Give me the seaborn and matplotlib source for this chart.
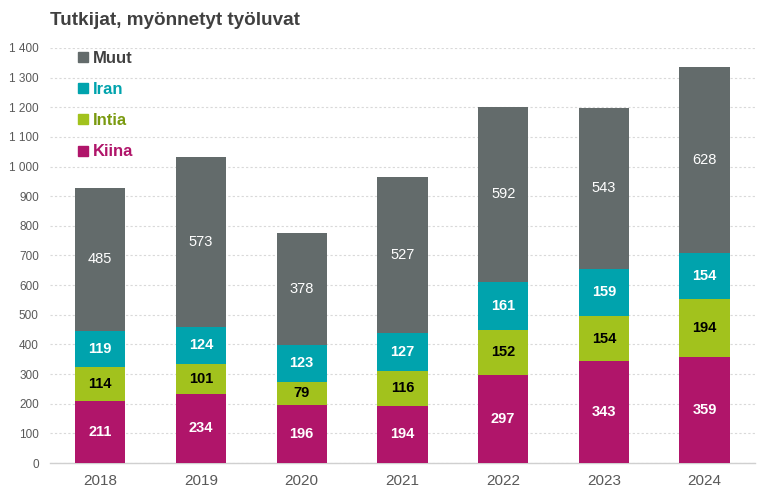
import matplotlib
matplotlib.use("Agg")
import matplotlib.pyplot as plt
import seaborn as sns
import pandas as pd
import numpy as np
from matplotlib.lines import Line2D
from matplotlib.ticker import FuncFormatter, MultipleLocator

years = ["2018", "2019", "2020", "2021", "2022", "2023", "2024"]
kiina = [211, 234, 196, 194, 297, 343, 359]
intia = [114, 101, 79, 116, 152, 154, 194]
iran = [119, 124, 123, 127, 161, 159, 154]
muut = [485, 573, 378, 527, 592, 543, 628]

series_names = ["Kiina", "Intia", "Iran", "Muut"]
series_vals = [kiina, intia, iran, muut]
colors = {"Kiina": "#B0156A", "Intia": "#A2C21D", "Iran": "#00A3AD", "Muut": "#636B6B"}
label_style = {
    "Kiina": dict(color="white", fontweight="bold"),
    "Intia": dict(color="black", fontweight="bold"),
    "Iran": dict(color="white", fontweight="bold"),
    "Muut": dict(color="white", fontweight="normal"),
}

sns.set_theme(style="white")
plt.rcParams["font.family"] = ["Liberation Sans", "DejaVu Sans"]

df = pd.DataFrame({"year": years})
cum = np.zeros(len(years))
for name, vals in zip(series_names, series_vals):
    cum = cum + np.array(vals)
    df[name + "_cum"] = cum.copy()

fig = plt.figure(figsize=(7.68, 4.99), dpi=100)
ax = fig.add_axes([0.065, 0.072, 0.918, 0.832])

# draw from top of stack down so lower segments overlay
for name in reversed(series_names):
    sns.barplot(data=df, x="year", y=name + "_cum", color=colors[name],
                width=0.5, ax=ax, linewidth=0, saturation=1, zorder=3)

# segment labels
bottom = np.zeros(len(years))
for name, vals in zip(series_names, series_vals):
    vals = np.array(vals)
    for i, v in enumerate(vals):
        ax.text(i, bottom[i] + v / 2, str(v), ha="center", va="center",
                fontsize=10.5, zorder=5, **label_style[name])
    bottom = bottom + vals

ax.set_ylim(0, 1400)
ax.set_xlim(-0.5, 6.5)
ax.yaxis.set_major_locator(MultipleLocator(100))
ax.yaxis.set_major_formatter(FuncFormatter(lambda v, p: f"{int(v):,}".replace(",", " ")))
ax.grid(axis="y", color="#D9D9D9", linestyle=(0, (2, 2)), linewidth=0.8, zorder=0)
ax.set_axisbelow(True)
for s in ["top", "right", "left"]:
    ax.spines[s].set_visible(False)
ax.spines["bottom"].set_color("#D0D0D0")
ax.spines["bottom"].set_linewidth(1)
ax.set_xlabel("")
ax.set_ylabel("")
ax.tick_params(axis="y", labelsize=8.5, labelcolor="#595959", length=0, pad=8)
ax.tick_params(axis="x", labelsize=11, labelcolor="#595959", length=0, pad=8)

fig.text(0.065, 0.958, "Tutkijat, myönnetyt työluvat", fontsize=13.6, fontweight="bold",
         color="#404040", ha="left", va="center")

legend_order = ["Muut", "Iran", "Intia", "Kiina"]
text_colors = {"Muut": "#404040", "Iran": "#00A3AD", "Intia": "#7A9A10", "Kiina": "#B0156A"}
handles = [Line2D([0], [0], marker="s", linestyle="", markersize=7,
                  markerfacecolor=colors[n], markeredgecolor=colors[n]) for n in legend_order]
leg = ax.legend(handles, legend_order, loc="upper left", bbox_to_anchor=(0.0185, 1.029),
                frameon=False, handlelength=0.6, handletextpad=0.3, labelspacing=0.97,
                prop={"size": 12, "weight": "bold"})
for t, n in zip(leg.get_texts(), legend_order):
    t.set_color(text_colors[n])

fig.savefig("out.png", dpi=100)
